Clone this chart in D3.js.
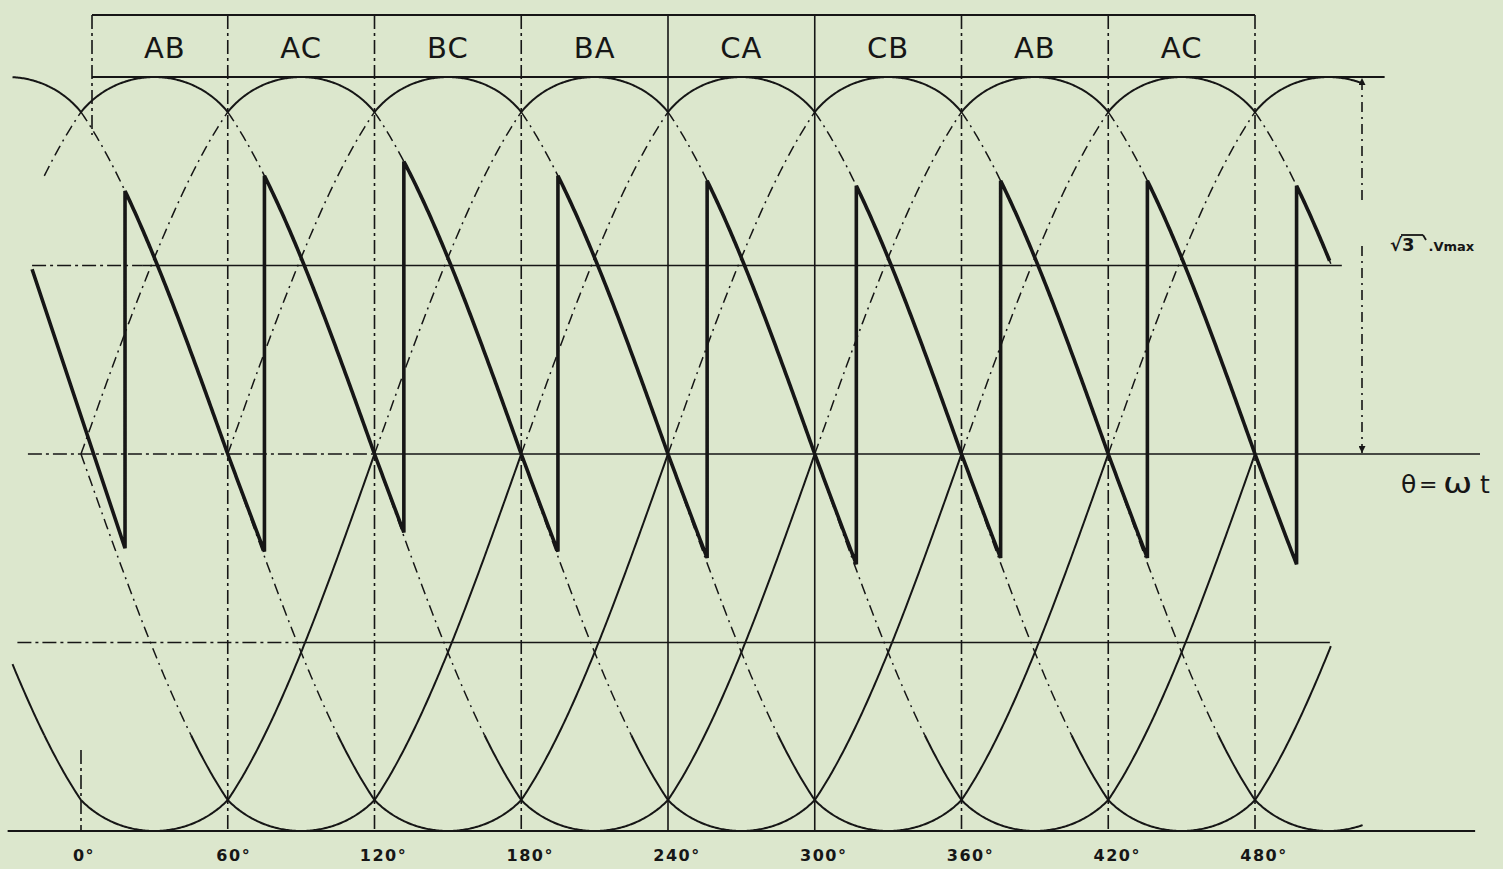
<!DOCTYPE html>
<html><head><meta charset="utf-8">
<script src="https://cdn.jsdelivr.net/npm/d3@7"></script>
<style>html,body{margin:0;padding:0;background:#dce7cd;} svg{display:block}</style>
</head><body>
<svg id="chart" width="1503" height="869"></svg>
<script>
// ---------------- data ----------------
const phaseLabels = ["AB","AC","BC","BA","CA","CB","AB","AC"];
const intervalStartDeg = [0,60,120,180,240,300,360,420];
const tickDeg = [0,60,120,180,240,300,360,420,480];
const tickLabels = ["0°","60°","120°","180°","240°","300°","360°","420°","480°"];
// centres (deg) of the positive and negative half-waves of the line voltages
const positiveHumpCenters = [-30,30,90,150,210,270,330,390,450,510];
const negativeHumpCenters = [30,90,150,210,270,330,390,450,510];
// thyristor firing instants (deg) and the start / end of the output wave
const firingDeg = [18,75,132,195,256,317,376,436,497];
const sawStart = {deg:-20, value:0.49};
const sawLeadInEndValue = -0.25;
const sawEndDeg = 510.5;
const levelValues = [1,0.5,0,-0.5,-1];
const solidGridDeg = [240,300];
// value at which neighbouring crests / troughs meet in the drawing
const crestMeetTop = 0.907, crestMeetBottom = 0.918;

// ---------------- layout ----------------
const W = 1503, H = 869;
const svg = d3.select("#chart");
const x = d3.scaleLinear().domain([0,480]).range([81,1255]);
const y = d3.scaleLinear().domain([-1,1]).range([831,77]);
const INK = "#161616";
const DASHDOT = "14,4,3,4";
const DASHCURVE = "11,5,2,5";
const boxTop = 15, headerStartDeg = 4.5;
const rad = Math.PI/180;
const line = d3.line().x(d=>x(d[0])).y(d=>y(d[1]));
const pxPerDeg = x(1) - x(0), pxPerUnit = y(0) - y(1);

// drawn wave: round (circular) crest between meeting points, cosine flanks
function wave(phiDeg, sign) {
  const p = ((phiDeg % 360) + 540) % 360 - 180;
  const a = Math.abs(p);
  const meet = sign > 0 ? crestMeetTop : crestMeetBottom;
  let v;
  if (a <= 30) {
    const depth = (1 - meet) * pxPerUnit, half = 30 * pxPerDeg;
    const R = (half*half + depth*depth) / (2*depth);
    const dx = a * pxPerDeg;
    v = 1 - (R - Math.sqrt(R*R - dx*dx)) / pxPerUnit;
  } else if (a < 90) {
    v = Math.cos(a*rad) + (meet - Math.cos(30*rad)) * (90 - a) / 60;
  } else {
    v = Math.cos(a*rad);
  }
  return sign*v;
}

svg.append("rect").attr("width",W).attr("height",H).attr("fill","#dce7cd");

const defs = svg.append("defs");
defs.append("marker").attr("id","arr").attr("viewBox","0 0 10 10")
  .attr("refX",10).attr("refY",5).attr("markerWidth",16).attr("markerHeight",7)
  .attr("orient","auto-start-reverse").attr("markerUnits","userSpaceOnUse")
  .append("path").attr("d","M0,0 L10,5 L0,10 z").attr("fill",INK);

const g = svg.append("g");

// ---------- vertical grid lines ----------
tickDeg.forEach(t => {
  const solid = solidGridDeg.includes(t);
  const segs = t === 0 ? [[boxTop, 135, x(headerStartDeg)], [750, y(-1), x(0)]] : [[boxTop, y(-1), x(t)]];
  segs.forEach(s => {
    g.append("line").attr("x1",s[2]).attr("x2",s[2]).attr("y1",s[0]).attr("y2",s[1])
      .attr("stroke",INK).attr("stroke-width",1.6)
      .attr("stroke-dasharray", solid ? null : DASHDOT);
  });
});

// ---------- header box ----------
g.append("line").attr("x1",x(headerStartDeg)).attr("x2",x(480)).attr("y1",boxTop).attr("y2",boxTop)
  .attr("stroke",INK).attr("stroke-width",1.8);
phaseLabels.forEach((lab,i) => {
  const a = Math.max(intervalStartDeg[i], headerStartDeg), b = intervalStartDeg[i]+60;
  g.append("text").attr("x",(x(a)+x(b))/2 + (i===0 ? 5 : 0)).attr("y",58).attr("text-anchor","middle")
    .attr("font-family","DejaVu Sans").attr("font-size",29).attr("fill",INK)
    .attr("letter-spacing",1).text(lab);
});

// ---------- horizontal levels ----------
const levelExtent = {"1":[headerStartDeg,533], "0.5":[-20,515.5], "0":[-21.7,572], "-0.5":[-26,510.6], "-1":[-30,570]};
const levelDashTo = {"1":null, "0.5":25, "0":120, "-0.5":90, "-1":null};
levelValues.forEach(v => {
  const [a,b] = levelExtent[String(v)];
  const dt = levelDashTo[String(v)];
  const w = (v===1||v===-1) ? 1.9 : 1.6;
  if (dt !== null) {
    g.append("line").attr("x1",x(a)).attr("x2",x(dt)).attr("y1",y(v)).attr("y2",y(v))
      .attr("stroke",INK).attr("stroke-width",w).attr("stroke-dasharray",DASHDOT);
    g.append("line").attr("x1",x(dt)).attr("x2",x(b)).attr("y1",y(v)).attr("y2",y(v))
      .attr("stroke",INK).attr("stroke-width",w);
  } else {
    g.append("line").attr("x1",x(a)).attr("x2",x(b)).attr("y1",y(v)).attr("y2",y(v))
      .attr("stroke",INK).attr("stroke-width",w);
  }
});

// ---------- line-voltage waves ----------
function piece(c, sign, a, b, lo, hi) {
  const t0 = Math.max(c+a, lo), t1 = Math.min(c+b, hi);
  if (t1 <= t0) return null;
  const pts = d3.range(t0, t1, 0.5).map(t => [t, wave(t-c, sign)]);
  pts.push([t1, wave(t1-c, sign)]);
  return pts;
}
function drawPiece(pts, dashed, w) {
  if (!pts) return;
  g.append("path").attr("d", line(pts)).attr("fill","none").attr("stroke",INK)
    .attr("stroke-width", w).attr("stroke-dasharray", dashed ? DASHCURVE : null);
}
const LO = -28, HI = 511, HIENV = 524;
positiveHumpCenters.forEach(c => {
  drawPiece(piece(c, 1, -90, -30, c === 30 ? -15 : LO, HI), true, 1.5);
  drawPiece(piece(c, 1, -30, 30, LO, HIENV), false, 2);
  drawPiece(piece(c, 1, 30, 90, LO, HI), true, 1.5);
});
negativeHumpCenters.forEach(c => {
  drawPiece(piece(c, -1, -90, -45, LO, HI), c !== 30, c === 30 ? 2 : 1.5);
  drawPiece(piece(c, -1, -45, 30, LO, HIENV), false, 2);
  drawPiece(piece(c, -1, 30, 90, LO, HI), false, 2);
});

// ---------- output voltage (sawtooth) ----------
const saw = [[sawStart.deg, sawStart.value], [firingDeg[0], sawLeadInEndValue]];
firingDeg.forEach((f,i) => {
  const cCur = -30 + 60*i;
  if (i > 0) saw.push([f, wave(f-(cCur-60), 1)]);
  saw.push([f, wave(f-cCur, 1)]);
  const end = i < firingDeg.length-1 ? firingDeg[i+1] : sawEndDeg;
  d3.range(f+0.5, end, 0.5).forEach(t => saw.push([t, wave(t-cCur, 1)]));
  if (i === firingDeg.length-1) saw.push([end, wave(end-cCur, 1)]);
});
g.append("path").attr("d", line(saw)).attr("fill","none").attr("stroke",INK)
  .attr("stroke-width",3.6).attr("stroke-linejoin","miter").attr("stroke-miterlimit",4);

// ---------- tick labels ----------
tickDeg.forEach((t,i) => {
  const len = tickLabels[i].length;
  g.append("text").attr("x", x(t) + (len===2 ? 3 : (len===3 ? 6 : 9))).attr("y",861).attr("text-anchor","middle")
    .attr("font-family","DejaVu Sans").attr("font-weight","bold").attr("font-size",16)
    .attr("fill",INK).attr("letter-spacing",1.5).text(tickLabels[i]);
});

// ---------- amplitude arrow and labels ----------
const ax = 1362;
g.append("line").attr("x1",ax).attr("x2",ax).attr("y1",200).attr("y2",y(1)+1)
  .attr("stroke",INK).attr("stroke-width",1.6).attr("stroke-dasharray","10,5,2,5")
  .attr("marker-end","url(#arr)");
g.append("line").attr("x1",ax).attr("x2",ax).attr("y1",246).attr("y2",y(0)-1)
  .attr("stroke",INK).attr("stroke-width",1.6).attr("stroke-dasharray","10,5,2,5")
  .attr("marker-end","url(#arr)");

const lab = g.append("text").attr("x",1390).attr("y",251).attr("font-family","DejaVu Sans")
  .attr("font-weight","bold").attr("fill",INK);
lab.append("tspan").attr("font-size",18).text("√3");
lab.append("tspan").attr("font-size",13).attr("dx",14).text(".Vmax");
g.append("line").attr("x1",1401).attr("x2",1423).attr("y1",235).attr("y2",235)
  .attr("stroke",INK).attr("stroke-width",1.8);
g.append("line").attr("x1",1423).attr("x2",1426).attr("y1",235).attr("y2",240)
  .attr("stroke",INK).attr("stroke-width",1.8);

// θ = ωt
const tf = {family:"DejaVu Sans", size:25};
g.append("text").attr("x",1401).attr("y",493).attr("font-family",tf.family).attr("font-size",tf.size)
  .attr("fill",INK).text("θ");
g.append("text").attr("x",1419).attr("y",492).attr("font-family",tf.family).attr("font-size",22)
  .attr("fill",INK).text("=");
g.append("text").attr("transform","translate(1443,493) scale(1.4,1.1)").attr("font-family",tf.family)
  .attr("font-size",tf.size).attr("fill",INK).text("ω");
g.append("text").attr("x",1480).attr("y",493).attr("font-family",tf.family).attr("font-size",tf.size)
  .attr("fill",INK).text("t");
</script>
</body></html>
